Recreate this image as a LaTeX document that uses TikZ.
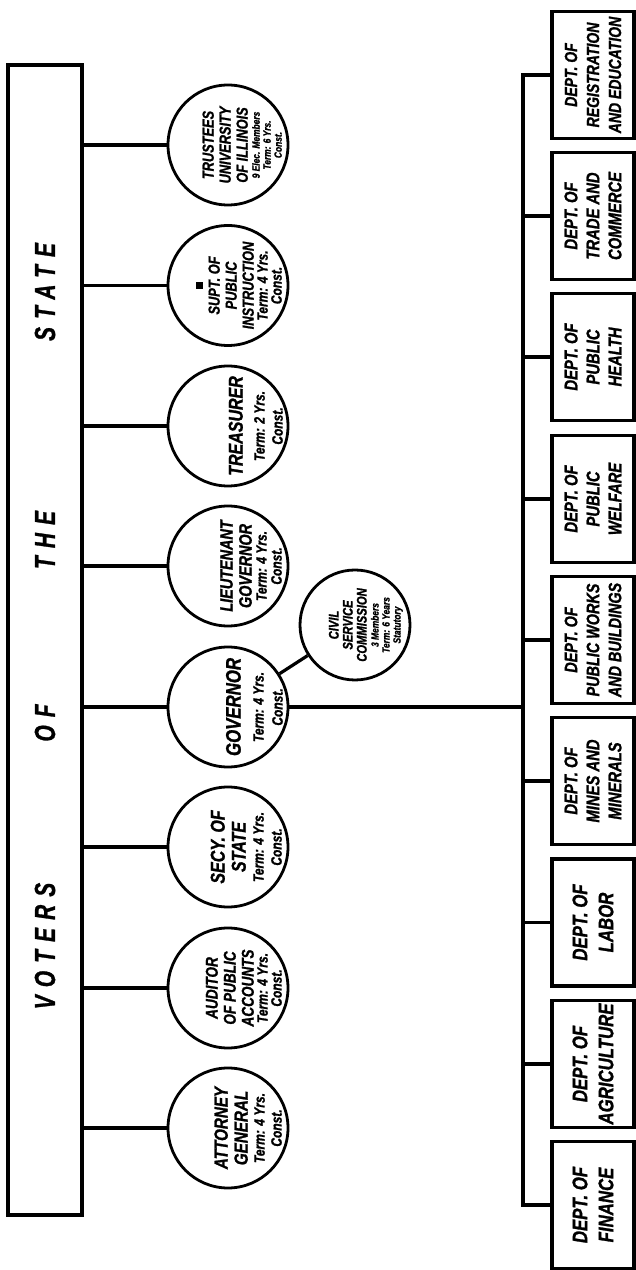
\documentclass[tikz,border=0pt]{standalone}
\usepackage{fontspec}
\newfontfamily\hand{Liberation Sans}[FakeStretch=0.8,FakeBold=1.2]
\newfontfamily\handwide{Liberation Sans}[FakeStretch=0.72,LetterSpace=28,FakeBold=1]
\newcommand\sml{\fontsize{15}{16}\selectfont}
\newcommand\tny{\fontsize{10.5}{11}\selectfont}
\begin{document}
\begin{tikzpicture}[x=1pt,y=1pt,
  link/.style={line width=3.2pt},
  office/.style={circle,draw,line width=2.8pt,minimum size=120pt,inner sep=0pt},
  otext/.style={rotate=90,anchor=south,align=center,inner sep=0pt,font=\hand\bfseries\itshape\fontsize{19}{20}\selectfont},
  dept/.style={draw,line width=3.4pt,rotate=90,minimum width=127pt,minimum height=82pt,inner sep=0pt,align=center,font=\hand\bfseries\itshape\fontsize{18.5}{22}\selectfont},
  dept2/.style={dept,font=\hand\bfseries\itshape\fontsize{21}{26}\selectfont},
  vword/.style={rotate=90,inner sep=0pt,font=\handwide\bfseries\itshape\fontsize{29}{29}\selectfont}
]
\useasboundingbox (0,0) rectangle (636,1270);
% voters box
\node[draw,line width=3.2pt,minimum width=74pt,minimum height=1150pt,inner sep=0pt] (voters) at (45,630) {};
\node[vword] (w1) at (45,324) {VOTERS};
\node[vword] (w2) at (45,547) {OF};
\node[vword] (w3) at (45,730) {THE};
\node[vword] (w4) at (45,978) {STATE};
% elected offices
\node[office] (trus) at (228,1125) {};
\node[office] (supt) at (228,984.5) {};
\node[office] (treas) at (228,844) {};
\node[office] (lieut) at (228,704) {};
\node[office] (gov) at (228,563) {};
\node[office] (secy) at (228,423) {};
\node[office] (aud) at (228,282) {};
\node[office] (att) at (228,142) {};
\node[office,minimum size=110pt] (csc) at (355,645) {};
% texts
\node[otext,font=\hand\bfseries\itshape\fontsize{16}{17}\selectfont] (ttrus) at (282,1125)
  {TRUSTEES\\UNIVERSITY\\OF ILLINOIS\\[-5pt]{\tny 9 Elec. Members}\\[-6pt]{\tny Term: 6 Yrs.}\\[-6pt]{\tny Const.}};
\node[otext,font=\hand\bfseries\itshape\fontsize{16}{17}\selectfont] (tsupt) at (282,984.5)
  {\rule{7pt}{7pt}\\SUPT. OF\\PUBLIC\\INSTRUCTION\\[-3pt]{\sml Term: 4 Yrs.}\\[-3pt]{\sml Const.}};
\node[otext,font=\hand\bfseries\itshape\fontsize{20}{21}\selectfont] (ttreas) at (283,844)
  {TREASURER\\[1pt]{\sml Term: 2 Yrs.}\\[-3pt]{\sml Const.}};
\node[otext,font=\hand\bfseries\itshape\fontsize{18}{19}\selectfont] (tlieut) at (282,704)
  {LIEUTENANT\\GOVERNOR\\[-4pt]{\sml Term: 4 Yrs.}\\[-4pt]{\sml Const.}};
\node[otext,font=\hand\bfseries\itshape\fontsize{21}{22}\selectfont] (tgov) at (283,563)
  {GOVERNOR\\[1pt]{\sml Term: 4 Yrs.}\\[-3pt]{\sml Const.}};
\node[otext,font=\hand\bfseries\itshape\fontsize{20}{21}\selectfont] (tsecy) at (282,423)
  {SECY. OF\\STATE\\[-3pt]{\sml Term: 4 Yrs.}\\[-3pt]{\sml Const.}};
\node[otext,font=\hand\bfseries\itshape\fontsize{17}{18}\selectfont] (taud) at (282,282)
  {AUDITOR\\OF PUBLIC\\ACCOUNTS\\[-4pt]{\sml Term: 4 Yrs.}\\[-4pt]{\sml Const.}};
\node[otext] (tatt) at (282,142)
  {ATTORNEY\\GENERAL\\[-3pt]{\sml Term: 4 Yrs.}\\[-3pt]{\sml Const.}};
\node[otext,font=\hand\bfseries\itshape\fontsize{14}{14}\selectfont] (tcsc) at (403,645)
  {CIVIL\\SERVICE\\COMMISSION\\[-2pt]{\tny 3 Members}\\[-3pt]{\tny Term: 6 Years}\\[-3pt]{\tny Statutory}};
% connectors voters -> offices
\foreach \o in {trus,supt,treas,lieut,gov,secy,aud,att}
  \draw[link] (\o.west) -- (\o.west -| voters.east);
\draw[link] (gov) -- (csc);
% departments
\coordinate (busT) at (523,1195);
\coordinate (busB) at (523,65);
\node[dept,font=\hand\bfseries\itshape\fontsize{17.5}{22}\selectfont] (reg) at (593,1195) {DEPT. OF\\REGISTRATION\\AND EDUCATION};
\node[dept] (trade) at (593,1054) {DEPT. OF\\TRADE AND\\COMMERCE};
\node[dept] (health) at (593,913) {DEPT. OF\\PUBLIC\\HEALTH};
\node[dept] (welf) at (593,771) {DEPT. OF\\PUBLIC\\WELFARE};
\node[dept,font=\hand\bfseries\itshape\fontsize{18}{22}\selectfont] (works) at (593,630) {DEPT. OF\\PUBLIC WORKS\\AND BUILDINGS};
\node[dept] (mines) at (593,489) {DEPT. OF\\MINES AND\\MINERALS};
\node[dept2] (labor) at (593,347.5) {DEPT. OF\\LABOR};
\node[dept2] (agri) at (593,206) {DEPT. OF\\AGRICULTURE};
\node[dept2] (fin) at (593,65) {DEPT. OF\\FINANCE};
\draw[link,line cap=rect] (busT) -- (busB);
\foreach \d in {reg,trade,health,welf,works,mines,labor,agri,fin}
  \draw[link] (\d.north) -- (\d.north -| busT);
\draw[link] (gov.east) -- (gov.east -| busT);
\end{tikzpicture}
\end{document}
